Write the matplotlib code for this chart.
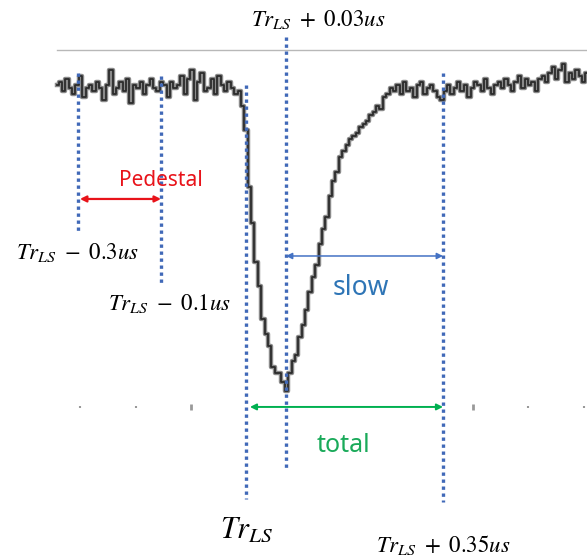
import matplotlib
matplotlib.use("Agg")
import matplotlib.pyplot as plt
import numpy as np

plt.rcParams["mathtext.fontset"] = "stix"

# waveform samples (ns, arbitrary amplitude)
t_start = -336
dt = 6
trace = [
    1, 2, -1, 3, 0, -2, 1, 4, -3, 0,
    1, -1, 2, 0, -4, 1, 6, -2, 0, 2,
    -1, 3, -5, 1, 0, 2, -2, 1, 3, 0,
    -1, 2, 1, -3, 2, 0, 1, 4, -2, 3,
    6, -4, 2, 5, -1, 0, 3, -2, 4, 1,
    -1, 2, 0, -2, -1,
    # falling edge and recovery
    -6, -14, -33, -45, -58, -66, -77, -82, -86, -93,
    -95, -95, -98, -101, -95, -91, -89, -83, -79, -74,
    -68, -63, -59, -52, -47, -43, -36, -31, -28, -23,
    -21, -19, -17, -16, -15, -13, -12, -11, -9, -8,
    -6, -7, -3, -2, 0, -1,
    # tail
    1, -2, 2, -1, 0, -3, 1, 2, -2, 0, 1, -1, -3, -4,
    -1, 1, -2, 0, 2, -1, 1, -3, 0, 2, 1, -1, 3, 0, -2, 1, 2,
    0, 3, 1, -1, 2, 4, 0, 3, 1, 2, -1, 3,
    4, 2, 5, 7, 3, 6, 8, 2, 5, 3, 6, 4, 2, 5,
]

# marker lines (drawn position in ns) and their vertical extent
marker_t = [-298, -151, 0, 71, 350]
marker_top = [5, 4, 1, 17, 5]
marker_bottom = [-48, -65, -137, -127, -138]

# graticule ticks along the bottom row of the screen
tick_t = [-295, -195, -98, 403, 501, 600]
tick_big = [False, False, True, True, False, False]

screen_top = 12.7
tick_row = -106.3

pedestal = (-295, -151, -37)
slow = (71, 350, -56)
total = (7, 350, -106.3)


def main():
    fig = plt.figure(figsize=(5.87, 5.57), dpi=100)
    ax = fig.add_axes([0, 0, 1, 1])
    ax.set_xlim(-437, 605.8)
    ax.set_ylim(-156.3, 29.3)
    ax.axis("off")

    t = t_start + dt * np.arange(len(trace))

    # screen edge line
    ax.plot([t[0], 620], [screen_top, screen_top], color="#b8b8b8", lw=1.0)

    for x, big in zip(tick_t, tick_big):
        ax.plot([x], [tick_row], marker="|", color="#999999",
                markersize=5 if big else 2, mew=2 if big else 1.5)

    # trace: grey halo under a dark step line
    ax.plot(t, trace, drawstyle="steps-mid", color="#8a8a8a", lw=3.2)
    ax.plot(t, trace, drawstyle="steps-mid", color="#2b2b2b", lw=1.3)

    for x, y0, y1 in zip(marker_t, marker_top, marker_bottom):
        ax.plot([x, x], [y0, y1], color="#4169b8", lw=2.4,
                linestyle=(0, (1.0, 1.1)), dash_capstyle="butt")

    def arrow(span, color, lw):
        x0, x1, y = span
        ax.annotate("", xy=(x1, y), xytext=(x0, y),
                    arrowprops=dict(arrowstyle="<|-|>", color=color, lw=lw,
                                    mutation_scale=9, shrinkA=0, shrinkB=0))

    arrow(pedestal, "#e8131a", 1.6)
    arrow(slow, "#4472c4", 1.1)
    arrow(total, "#00b050", 1.4)

    sans = ["Noto Sans", "DejaVu Sans"]
    ax.text(-151, -30.7, "Pedestal", color="#e8131a", fontsize=15,
            family=sans, ha="center", va="center")
    ax.text(204, -66.7, "slow", color="#2e75b6", fontsize=19,
            family=sans, ha="center", va="center")
    ax.text(174, -119, "total", color="#1aaa5a", fontsize=18,
            family=sans, ha="center", va="center")

    ax.text(128, 22.7, r"$Tr_{LS}\ +\ 0.03us$", fontsize=16.5,
            ha="center", va="center")
    ax.text(-300, -55, r"$Tr_{LS}\ -\ 0.3us$", fontsize=16.5,
            ha="center", va="center")
    ax.text(-135, -71.7, r"$Tr_{LS}\ -\ 0.1us$", fontsize=16.5,
            ha="center", va="center")
    ax.text(2, -147.3, r"$Tr_{LS}$", fontsize=22, ha="center", va="center")
    ax.text(350, -152.3, r"$Tr_{LS}\ +\ 0.35us$", fontsize=16.5,
            ha="center", va="center")

    fig.savefig("out.png", dpi=100)
    plt.close(fig)


if __name__ == "__main__":
    main()
